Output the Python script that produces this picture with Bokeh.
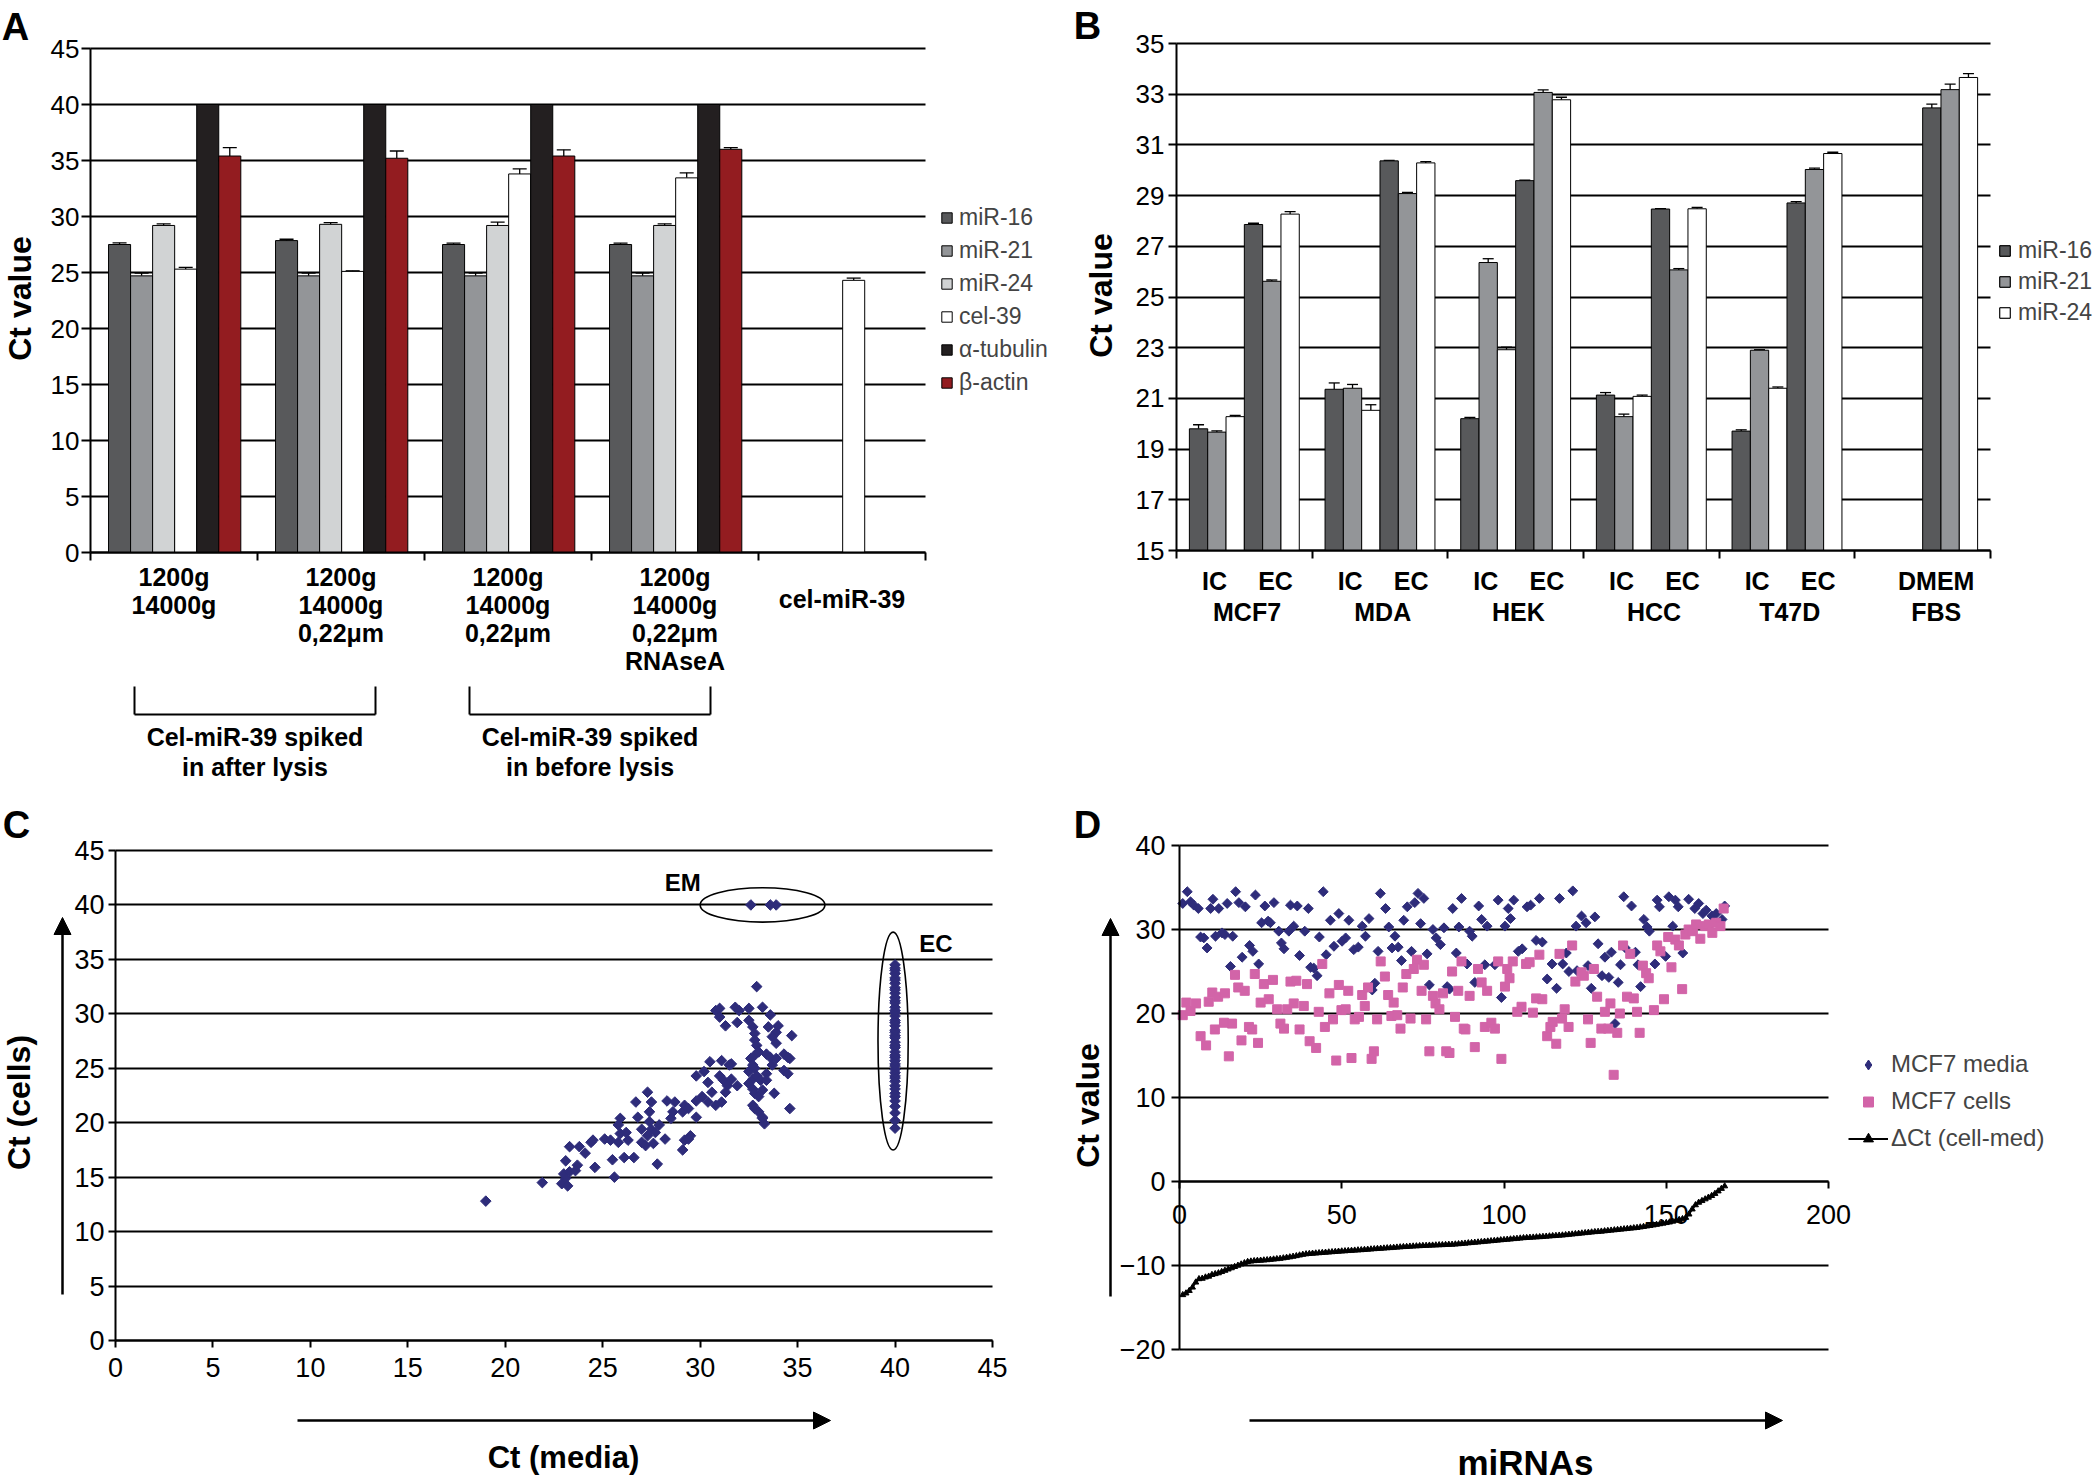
import math
from bokeh.plotting import figure
from bokeh.models import (ColumnDataSource, FixedTicker, Label, Legend, LegendItem,
                          Whisker, TeeHead, Arrow, NormalHead, Range1d)
from bokeh.layouts import column, row
from bokeh.embed import file_html
from bokeh.resources import INLINE

FONT = "Liberation Sans"
NAVY = "#2e2c7a"
PINK = "#d264a8"

# ---------------- Panel A data ----------------
a_groups = [["1200g", "14000g"],
            ["1200g", "14000g", "0,22\u03bcm"],
            ["1200g", "14000g", "0,22\u03bcm"],
            ["1200g", "14000g", "0,22\u03bcm", "RNAseA"],
            ["cel-miR-39"]]
a_series = ["miR-16", "miR-21", "miR-24", "cel-39", "\u03b1-tubulin", "\u03b2-actin"]
a_mir16 = [27.5, 27.85, 27.5, 27.5, None]
a_mir21 = [24.7, 24.7, 24.7, 24.7, None]
a_mir24 = [29.2, 29.3, 29.2, 29.2, None]
a_cel39 = [25.3, 25.1, 33.8, 33.45, 24.3]
a_tubulin = [40.0, 40.0, 40.0, 40.0, None]
a_actin = [35.4, 35.2, 35.4, 36.0, None]
a_mir16_err = [0.15, 0.12, 0.12, 0.12, None]
a_mir21_err = [0.25, 0.25, 0.25, 0.25, None]
a_mir24_err = [0.15, 0.15, 0.3, 0.15, None]
a_cel39_err = [0.15, 0.05, 0.45, 0.45, 0.2]
a_tubulin_err = [0.0, 0.0, 0.0, 0.0, None]
a_actin_err = [0.75, 0.65, 0.55, 0.15, None]
a_brackets = ["Cel-miR-39 spiked|in after lysis", "Cel-miR-39 spiked|in before lysis"]

# ---------------- Panel B data ----------------
b_cells = ["MCF7", "MDA", "HEK", "HCC", "T47D", "DMEM"]
b_cells2 = [None, None, None, None, None, "FBS"]
b_series = ["miR-16", "miR-21", "miR-24"]
b_ic_mir16 = [19.8, 21.36, 20.2, 21.13, 19.71, None]
b_ic_mir21 = [19.67, 21.4, 26.36, 20.28, 22.9, None]
b_ic_mir24 = [20.28, 20.53, 22.92, 21.08, 21.4, None]
b_ec_mir16 = [27.86, 30.37, 29.59, 28.47, 28.71, 32.46]
b_ec_mir21 = [25.62, 29.08, 33.07, 26.07, 30.03, 33.18]
b_ec_mir24 = [28.27, 30.29, 32.78, 28.48, 30.66, 33.66]
b_ic_mir16_err = [0.16, 0.25, 0.05, 0.1, 0.05, None]
b_ic_mir21_err = [0.05, 0.15, 0.15, 0.1, 0.02, None]
b_ic_mir24_err = [0.05, 0.22, 0.1, 0.05, 0.05, None]
b_ec_mir16_err = [0.05, 0.02, 0.02, 0.02, 0.05, 0.15]
b_ec_mir21_err = [0.05, 0.05, 0.1, 0.05, 0.05, 0.22]
b_ec_mir24_err = [0.1, 0.05, 0.1, 0.05, 0.05, 0.15]

# ---------------- Panel C data ----------------
c_media = [19.0, 21.9, 22.9, 23.1, 23.0, 23.3, 23.2, 23.1, 23.3, 23.8, 24.1, 23.7, 23.6, 24.6, 24.4,
           24.5, 25.1, 25.4, 25.6, 25.5, 25.8, 25.9, 25.9, 25.8, 26.2, 26.3, 26.1, 26.6, 26.7, 26.8,
           27.0, 27.2, 27.3, 27.5, 27.4, 27.4, 27.5, 27.7, 27.9, 27.0, 27.3, 27.8, 27.6, 28.2, 28.3,
           28.7, 28.5, 28.6, 29.1, 29.2, 29.5, 29.4, 29.1, 29.2, 29.4, 29.8, 29.8, 29.8, 30.2, 30.1,
           30.4, 30.5, 30.4, 30.6, 30.8, 31.0, 31.1, 31.2, 31.1, 31.3, 31.5, 31.6, 31.4, 31.6, 31.9,
           30.8, 31.0, 31.0, 31.3, 31.8, 32.0, 31.9, 32.5, 32.9, 33.2, 32.5, 32.7, 32.8, 32.8, 32.9,
           33.6, 33.5, 33.9, 34.0, 33.7, 33.9, 34.7, 32.6, 32.7, 32.8, 33.0, 33.4, 33.6, 33.9, 33.7,
           34.3, 34.5, 34.6, 32.5, 32.7, 32.8, 32.9, 33.1, 33.4, 33.4, 34.3, 34.5, 32.5, 32.7, 32.8,
           33.0, 33.2, 33.8, 32.7, 32.8, 33.0, 33.2, 33.3, 33.2, 34.6]
c_cells = [12.8, 14.5, 14.4, 14.9, 15.3, 15.5, 14.2, 16.5, 17.8, 17.8, 17.2, 16.1, 15.6, 15.9, 18.2,
           18.4, 18.5, 18.4, 15.0, 16.6, 18.2, 19.0, 20.4, 19.8, 19.1, 18.4, 16.8, 16.8, 21.9, 20.5,
           18.2, 17.9, 22.8, 21.9, 21.0, 20.1, 19.4, 19.1, 19.8, 19.4, 18.8, 16.2, 18.1, 18.5, 22.0,
           21.9, 20.4, 21.0, 17.5, 18.4, 18.8, 18.5, 21.0, 21.6, 21.3, 22.0, 20.5, 24.3, 24.7, 22.4,
           21.9, 25.6, 23.7, 22.8, 21.6, 24.3, 25.7, 23.9, 21.9, 22.8, 25.3, 24.0, 23.4, 25.4, 23.4,
           30.3, 30.5, 29.7, 28.9, 30.6, 30.3, 29.2, 30.5, 32.5, 30.6, 29.4, 28.8, 28.2, 27.6, 27.1,
           29.9, 28.8, 28.3, 28.9, 27.9, 27.3, 28.0, 25.9, 25.3, 26.2, 26.5, 26.3, 26.0, 25.9, 25.3,
           26.3, 26.0, 25.9, 24.7, 24.0, 25.0, 24.3, 23.9, 24.5, 23.9, 24.8, 24.5, 23.6, 23.1, 22.7,
           22.4, 23.0, 22.7, 21.6, 21.3, 21.0, 20.4, 19.9, 20.5, 21.3]
# EC: not detected in media (Ct 40)
c_ec_cells = [19.5, 20.2, 20.9, 21.5, 22.0, 22.4, 22.7, 23.1, 23.4, 23.8, 24.1, 24.3, 24.6, 24.9,
              25.2, 25.4, 25.7, 26.0, 26.2, 26.5, 26.9, 27.1, 27.4, 27.8, 28.0, 28.3, 28.5, 28.9,
              29.2, 29.4, 29.8, 30.1, 30.3, 30.6, 31.0, 31.2, 31.5, 31.9, 32.2, 32.4, 32.8, 33.1,
              33.3, 33.7, 34.0, 34.2, 34.5]
c_ec_media = [40.0] * len(c_ec_cells)
# EM: not detected in cells (Ct 40)
c_em_media = [32.6, 33.6, 33.9]
c_em_cells = [40.0, 40.0, 40.0]

# ---------------- Panel D data ----------------
d_media_idx = [2.4, 1.0, 3.4, 4.4, 5.8, 6.5, 7.5, 8.5, 9.6, 10.3, 12.1, 11.1, 13.1, 14.0, 14.7,
               15.7, 16.4, 17.3, 18.3, 19.3, 20.3, 21.6, 22.6, 23.4, 24.4, 25.3, 26.3, 27.3, 28.0,
               29.1, 30.6, 31.4, 32.2, 33.7, 34.2, 35.2, 36.3, 37.0, 38.6, 39.7, 40.4, 41.4, 42.4,
               43.1, 44.3, 45.2, 46.5, 47.6, 49.1, 50.1, 51.2, 52.2, 53.7, 55.1, 56.3, 57.3, 58.4,
               59.4, 60.2, 61.2, 61.9, 63.5, 64.5, 65.5, 66.4, 67.4, 68.4, 69.1, 70.2, 71.5, 72.5,
               73.5, 74.3, 75.3, 76.3, 77.0, 78.1, 79.1, 80.4, 81.5, 82.5, 83.2, 84.2, 85.3, 86.1,
               86.9,
               89.4, 90.2, 92.2, 93.1, 94.8, 98.2, 100.3, 101.3, 102.0, 103.0, 107.1, 108.2, 110.9,
               117.1, 121.2, 122.2, 123.9, 125.3, 128.0, 88.6, 91.0, 94.1, 97.2, 99.2, 104.4, 105.6,
               109.9, 111.8, 113.3, 114.8, 116.2, 118.1, 119.2, 120.0, 122.5, 125.9, 126.9, 129.0,
               130.2, 131.1, 132.3, 133.1, 134.2, 135.2, 135.9, 136.9, 137.4, 139.3, 140.5, 141.3,
               142.1, 143.1, 144.1, 144.8, 146.5, 147.2, 147.9, 149.8, 152.0, 150.8, 152.8, 153.7,
               155.1, 156.9, 158.8, 160.0, 161.3, 162.3, 164.1, 165.4, 167.2, 168.0]
d_media = [34.5, 33.1, 33.3, 32.9, 32.5, 29.1, 29.0, 27.8, 32.5, 33.6, 32.5, 29.2, 29.6, 29.4, 33.1,
           25.6, 29.2, 34.5, 33.2, 26.7, 32.7, 28.1, 27.4, 34.1, 25.9, 30.8, 32.8, 31.0, 30.8, 33.2,
           29.8, 28.4, 27.7, 29.8, 32.9, 30.4, 32.8, 26.9, 29.8, 32.5, 25.5, 25.4, 24.5, 29.1, 34.5,
           27.0, 31.1, 28.0, 31.9, 28.6, 29.0, 31.1, 27.6, 27.9, 30.4, 29.2, 31.3, 22.8, 23.6, 27.4,
           34.3, 32.5, 30.3, 27.8, 29.2, 27.9, 26.3, 31.1, 32.7, 27.4, 33.2, 34.3, 30.7, 33.7, 27.1,
           23.4, 30.0, 29.0, 28.2, 30.2, 23.2, 22.9, 32.5, 27.2, 30.3, 33.7,
           29.8, 29.2, 32.8, 31.2, 30.4, 33.5, 30.4, 32.5, 31.3, 33.5, 32.7, 32.9, 33.7, 33.7, 34.6,
           30.4, 31.6, 30.8, 31.5, 25.9, 23.7, 25.8, 25.8, 21.9, 27.4, 27.7, 28.7, 28.5, 24.1, 25.9,
           23.0, 25.9, 27.2, 25.0, 25.1, 25.7, 23.0, 28.3, 24.5, 26.7, 24.3, 27.3, 18.8, 23.7, 25.8,
           33.9, 27.8, 32.8, 27.3, 25.8, 23.2, 31.2, 30.3, 29.8, 25.9, 33.5, 32.7, 26.8, 30.4, 33.9,
           33.5, 32.7, 27.2, 33.6, 32.5, 33.1, 31.9, 32.3, 31.6, 31.9, 31.2, 32.8]
d_cells_idx = [1.0, 2.1, 3.4, 5.1, 6.5, 8.2, 9.0, 10.1, 10.9, 11.9, 14.0, 13.7, 15.2, 16.2, 17.1,
               18.1, 19.1, 20.1, 21.4, 22.4, 23.2, 24.2, 25.0, 26.0, 27.5, 28.8, 30.1, 31.1, 32.2,
               33.2, 34.2, 36.0, 35.2, 37.0, 38.3, 39.3, 40.1, 42.1, 42.9, 44.0, 44.8, 46.2, 47.3,
               48.3, 49.1, 49.9, 51.2, 52.0, 53.0, 54.0, 55.3, 56.3, 57.1, 58.1, 59.2, 59.9, 60.9,
               62.0, 63.3, 64.3, 65.3, 66.0, 67.1, 68.1, 68.8, 69.9, 71.2, 72.2, 73.2, 74.6, 75.3,
               76.0, 77.0, 78.1, 78.9, 80.1, 81.2, 82.2, 83.2, 84.0, 84.9, 85.9, 86.9, 87.6,
               88.1, 89.4, 91.0, 92.0, 93.1, 94.1, 94.8, 96.1, 97.2, 98.2, 99.2, 100.3, 101.0, 101.7,
               102.7, 104.1, 105.4, 106.8, 107.9, 108.9, 109.9, 110.9, 111.8, 113.3, 114.3, 115.0,
               116.1, 117.1, 117.9, 118.7, 119.9, 121.0, 122.0, 123.9, 124.6, 125.9, 126.7, 127.7,
               128.7, 130.0, 131.1, 132.1, 132.8, 133.8, 134.9, 135.7, 136.7, 137.9, 138.9, 140.0,
               141.0, 141.8, 142.8, 143.8, 144.6, 146.2, 147.2, 148.2, 149.3, 150.6, 151.6, 152.8,
               153.9, 154.9, 155.9, 156.9, 158.2, 159.2, 160.5, 162.0, 163.1, 164.2, 165.4, 166.7,
               167.7]
d_cells = [19.8, 21.3, 20.3, 21.2, 17.3, 16.2, 21.4, 22.5, 18.1, 22.0, 22.4, 18.9, 14.9, 18.8, 24.6,
           23.1, 16.8, 22.7, 18.4, 18.1, 24.7, 16.5, 21.3, 23.5, 21.7, 24.0, 20.5, 18.8, 18.2, 20.5,
           23.8, 23.9, 21.2, 18.1, 20.9, 23.5, 16.7, 15.9, 20.2, 25.9, 18.4, 22.4, 19.3, 14.4, 23.4,
           20.4, 20.5, 22.7, 14.7, 19.3, 19.6, 22.2, 20.9, 23.1, 14.6, 15.5, 19.3, 26.2, 24.4, 22.2,
           19.7, 21.3, 19.8, 18.2, 23.1, 24.7, 19.4, 25.3, 26.4, 22.7, 25.8, 19.3, 15.5, 22.1, 21.2,
           20.5, 22.4, 15.5, 15.3, 25.0, 19.6, 22.7, 26.2, 18.2,
           18.1, 22.1, 16.0, 25.3, 23.7, 18.4, 22.7, 18.9, 18.2, 26.2, 14.6, 23.2, 25.3, 24.2, 26.2,
           20.2, 20.8, 25.9, 26.1, 20.1, 21.8, 27.0, 21.7, 17.3, 18.4, 19.0, 16.4, 27.1, 19.4, 20.5,
           18.4, 28.1, 23.8, 24.9, 24.5, 19.3, 16.5, 25.3, 22.0, 18.2, 20.2, 18.2, 21.2, 12.7, 17.7,
           20.0, 28.1, 22.0, 27.1, 21.8, 20.2, 17.7, 25.7, 24.8, 24.2, 20.4, 28.1, 27.4, 21.7, 29.1,
           25.5, 28.8, 28.1, 22.9, 29.4, 30.0, 29.8, 30.6, 28.9, 30.4, 30.6, 29.6, 30.8, 30.4, 32.5]
d_delta = [-13.5, -13.3, -13.0, -12.6, -12.0, -11.6, -11.55, -11.4, -11.3, -11.1,
           -11.0, -10.9, -10.75, -10.6, -10.45, -10.3, -10.15, -10.0, -9.85, -9.7,
           -9.55, -9.5, -9.45, -9.42, -9.4, -9.37, -9.34, -9.3, -9.26, -9.22,
           -9.18, -9.12, -9.06, -9.0, -8.93, -8.86, -8.78, -8.7, -8.64, -8.6,
           -8.57, -8.54, -8.51, -8.48, -8.45, -8.42, -8.39, -8.36, -8.33, -8.3,
           -8.28, -8.25, -8.23, -8.2, -8.17, -8.15, -8.12, -8.09, -8.06, -8.03,
           -8.0, -7.98, -7.95, -7.92, -7.9, -7.87, -7.84, -7.81, -7.78, -7.76,
           -7.73, -7.71, -7.69, -7.67, -7.65, -7.63, -7.61, -7.6, -7.58, -7.56,
           -7.55, -7.53, -7.51, -7.5, -7.47, -7.44, -7.4, -7.37, -7.33, -7.3,
           -7.26, -7.23, -7.19, -7.15, -7.12, -7.08, -7.05, -7.01, -6.97, -6.94,
           -6.9, -6.87, -6.83, -6.8, -6.76, -6.72, -6.7, -6.67, -6.65, -6.62,
           -6.6, -6.57, -6.54, -6.51, -6.48, -6.45, -6.42, -6.4, -6.36, -6.32,
           -6.28, -6.24, -6.2, -6.16, -6.12, -6.08, -6.04, -6.0, -5.97, -5.94,
           -5.9, -5.86, -5.82, -5.78, -5.74, -5.7, -5.66, -5.62, -5.58, -5.54,
           -5.5, -5.44, -5.38, -5.32, -5.26, -5.2, -5.13, -5.06, -4.99, -4.92,
           -4.85, -4.75, -4.65, -4.55, -4.45, -4.3, -3.9, -3.3, -2.8, -2.5,
           -2.3, -2.1, -1.9, -1.7, -1.45, -1.15, -0.85, -0.55]
d_delta_idx = list(range(1, len(d_delta) + 1))


# ---------------- helpers ----------------
def make_fig(fig_x0, fig_y0, w, h, xpx, xdat, ypx, ydat):
    """Figure whose frame fills the whole canvas; the data box (xdat, ydat)
    lands at page pixels (xpx, ypx)."""
    sx = (xpx[1] - xpx[0]) / (xdat[1] - xdat[0])
    sy = (ypx[1] - ypx[0]) / (ydat[1] - ydat[0])
    xr = Range1d(xdat[0] + (fig_x0 - xpx[0]) / sx, xdat[0] + (fig_x0 + w - xpx[0]) / sx)
    yr = Range1d(ydat[0] + (fig_y0 + h - ypx[0]) / sy, ydat[0] + (fig_y0 - ypx[0]) / sy)
    p = figure(width=w, height=h, x_range=xr, y_range=yr, min_border=0, min_border_left=0,
               min_border_right=0, min_border_top=0, min_border_bottom=0,
               output_backend="svg", toolbar_location=None)

    def conv(xp, yp):
        return xdat[0] + (xp - xpx[0]) / sx, ydat[0] + (yp - ypx[0]) / sy
    return p, conv


def style_axes(p, xdat, ydat, xticks, yticks, tick_px, xstand, ystand, xout=7, yout=8,
               xminor=None, xaxis_at=None):
    p.outline_line_color = None
    p.background_fill_color = "white"
    p.border_fill_color = "white"
    p.xgrid.visible = False
    p.ygrid.ticker = FixedTicker(ticks=yticks)
    p.ygrid.grid_line_color = "black"
    p.ygrid.grid_line_width = 1.8
    try:
        p.ygrid.cross_bounds = (xdat[0], xdat[1])
    except AttributeError:
        p.ygrid.visible = False
        p.segment(x0=[xdat[0]] * len(yticks), x1=[xdat[1]] * len(yticks), y0=yticks, y1=yticks,
                  line_color="black", line_width=1.8, level="underlay")
    if xminor is not None:
        p.xaxis.ticker = FixedTicker(ticks=[], minor_ticks=xminor)
    else:
        p.xaxis.ticker = FixedTicker(ticks=xticks)
    p.yaxis.ticker = FixedTicker(ticks=yticks)
    p.xaxis.fixed_location = ydat[0] if xaxis_at is None else xaxis_at
    p.yaxis.fixed_location = xdat[0]
    p.xaxis.bounds = (xdat[0], xdat[1])
    p.yaxis.bounds = (ydat[0], ydat[1])
    for ax, st, out in ((p.xaxis, xstand, xout), (p.yaxis, ystand, yout)):
        ax.axis_line_color = "black"
        ax.axis_line_width = 2
        ax.major_tick_line_color = "black"
        ax.major_tick_line_width = 2
        ax.major_tick_in = 0
        ax.major_tick_out = out
        ax.minor_tick_line_color = None
        ax.major_label_text_font = FONT
        ax.major_label_text_font_size = f"{tick_px}px"
        ax.major_label_text_color = "black"
        ax.major_label_standoff = st
    if xminor is not None:
        p.xaxis.minor_tick_line_color = "black"
        p.xaxis.minor_tick_line_width = 2
        p.xaxis.minor_tick_in = 0
        p.xaxis.minor_tick_out = xout


def lbl(p, xy, text, size, bold=False, angle=0.0, align="center", baseline="middle"):
    p.add_layout(Label(x=xy[0], y=xy[1], text=text, text_font=FONT, text_font_size=f"{size}px",
                       text_font_style="bold" if bold else "normal", angle=angle,
                       text_align=align, text_baseline=baseline, text_color="black"))


def seg(p, a, b, w=2.0):
    p.add_layout(Arrow(x_start=a[0], y_start=a[1], x_end=b[0], y_end=b[1], start=None, end=None,
                       line_color="black", line_width=w))


def arrow(p, a, b):
    p.add_layout(Arrow(x_start=a[0], y_start=a[1], x_end=b[0], y_end=b[1], start=None,
                       end=NormalHead(size=17, fill_color="black", line_color="black"),
                       line_color="black", line_width=2.5))


def bars(p, vals_list, errs_list, colors, width, shift, bottom, cap):
    rends = []
    n = len(vals_list)
    for j, (vals, errs, col) in enumerate(zip(vals_list, errs_list, colors)):
        xs, tops, ex, eb, eu = [], [], [], [], []
        for i, v in enumerate(vals):
            if v is None:
                continue
            xc = i + 0.5 + (j - (n - 1) / 2) * width + shift
            xs.append(xc)
            tops.append(v)
            if errs[i]:
                ex.append(xc); eb.append(v); eu.append(v + errs[i])
        src = ColumnDataSource(dict(x=xs, top=tops))
        r = p.vbar(x="x", top="top", bottom=bottom, width=width, source=src,
                   fill_color=col, line_color="black", line_width=1)
        rends.append(r)
        if ex:
            esrc = ColumnDataSource(dict(x=ex, base=eb, upper=eu))
            p.add_layout(Whisker(base="x", lower="base", upper="upper", source=esrc,
                                 dimension="height", line_color="black", line_width=1.3,
                                 lower_head=None,
                                 upper_head=TeeHead(size=cap, line_color="black", line_width=1.3)))
    return rends


def legend(p, items, loc, gw, gh, standoff, lh, spacing, size):
    p.add_layout(Legend(items=items, location=loc, glyph_width=gw, glyph_height=gh,
                        label_standoff=standoff, label_height=lh, spacing=spacing, padding=0,
                        margin=0, border_line_color=None, background_fill_alpha=0,
                        label_text_font=FONT, label_text_font_size=f"{size}px"))


# ================= Panel A =================
A_X, A_Y = (0, 5), (0, 45)
pA, A = make_fig(0, 0, 1050, 800, (90, 925), A_X, (552, 48), A_Y)
style_axes(pA, A_X, A_Y, [], list(range(0, 46, 5)), 26, 0, 2, xout=8, yout=9,
           xminor=list(range(0, 6)))
A_COLORS = ["#58595b", "#939598", "#d1d3d4", "#ffffff", "#231f20", "#931c20"]
rA = bars(pA, [a_mir16, a_mir21, a_mir24, a_cel39, a_tubulin, a_actin],
          [a_mir16_err, a_mir21_err, a_mir24_err, a_cel39_err, a_tubulin_err, a_actin_err],
          A_COLORS, 0.132, 0.004, 0, 14)
legend(pA, [LegendItem(label=s, renderers=[r]) for s, r in zip(a_series, rA)],
       (940, 800 - 396), 13, 13, 6, 27, 6, 23)
for i, lines in enumerate(a_groups):
    ys = [598] if len(lines) == 1 else [576 + 28 * k for k in range(len(lines))]
    for line, yp in zip(lines, ys):
        lbl(pA, (i + 0.5, A(0, yp)[1]), line, 25, bold=True)
for (xl, xr), text in zip([(134, 375), (469, 710)], a_brackets):
    tl, bl, br, tr = A(xl, 686), A(xl, 714), A(xr, 714), A(xr, 686)
    seg(pA, tl, bl)
    seg(pA, bl, br)
    seg(pA, br, tr)
    for k, t in enumerate(text.split("|")):
        lbl(pA, ((bl[0] + br[0]) / 2, A(0, 736 + 30 * k)[1]), t, 25, bold=True)
lbl(pA, A(19, 298), "Ct value", 32, bold=True, angle=math.pi / 2)
lbl(pA, A(15, 26), "A", 38, bold=True)

# ================= Panel B =================
B_X, B_Y = (0, 6), (15, 35)
pB, B = make_fig(1050, 0, 1050, 800, (1176, 1990), B_X, (550, 43), B_Y)
style_axes(pB, B_X, B_Y, [], list(range(15, 36, 2)), 26, 0, 4, xout=8, yout=8,
           xminor=list(range(0, 7)))
B_COLORS = ["#58595b", "#939598", "#ffffff"] * 2
rB = bars(pB, [b_ic_mir16, b_ic_mir21, b_ic_mir24, b_ec_mir16, b_ec_mir21, b_ec_mir24],
          [b_ic_mir16_err, b_ic_mir21_err, b_ic_mir24_err, b_ec_mir16_err, b_ec_mir21_err,
           b_ec_mir24_err], B_COLORS, 0.135, 0.0, 15, 11)
legend(pB, [LegendItem(label=s, renderers=[rB[k], rB[k + 3]]) for k, s in enumerate(b_series)],
       (1998 - 1050, 800 - 326), 13, 13, 7, 27, 4, 23)
y_row1 = B(0, 580)[1]
y_row2 = B(0, 611)[1]
for i, (name, name2) in enumerate(zip(b_cells, b_cells2)):
    if name2 is None:
        lbl(pB, (i + 0.28, y_row1), "IC", 25, bold=True)
        lbl(pB, (i + 0.73, y_row1), "EC", 25, bold=True)
        lbl(pB, (i + 0.52, y_row2), name, 25, bold=True)
    else:
        lbl(pB, (i + 0.6, y_row1), name, 25, bold=True)
        lbl(pB, (i + 0.6, y_row2), name2, 25, bold=True)
lbl(pB, B(1100, 295), "Ct value", 32, bold=True, angle=math.pi / 2)
lbl(pB, B(1087, 25), "B", 38, bold=True)

# ================= Panel C =================
C_X, C_Y = (0, 45), (0, 45)
pC, C = make_fig(0, 800, 1050, 683, (115, 992), C_X, (1340, 850), C_Y)
style_axes(pC, C_X, C_Y, list(range(0, 46, 5)), list(range(0, 46, 5)), 27, 10, 4, xout=7, yout=7)
for xs_, ys_ in ((c_media, c_cells), (c_ec_media, c_ec_cells), (c_em_media, c_em_cells)):
    pC.scatter(xs_, ys_, marker="square", angle=math.pi / 4, size=7.5,
               fill_color=NAVY, line_color=NAVY)
pC.ellipse(x=[33.2, 39.9], y=[40.0, 27.5], width=[6.4, 1.55], height=[3.15, 20.0],
           fill_color=None, line_color="black", line_width=1.6)
lbl(pC, (29.1, 42.1), "EM", 24, bold=True)
lbl(pC, (42.1, 36.5), "EC", 24, bold=True)
arrow(pC, C(62, 1294), C(62, 917))
arrow(pC, C(297, 1420), C(830, 1420))
lbl(pC, C(18, 1102), "Ct (cells)", 32, bold=True, angle=math.pi / 2)
lbl(pC, C(563, 1457), "Ct (media)", 31, bold=True)
lbl(pC, C(16, 824), "C", 38, bold=True)

# ================= Panel D =================
D_X, D_Y = (0, 200), (-20, 40)
pD, D = make_fig(1050, 800, 1050, 683, (1179, 1828), D_X, (1349, 845), D_Y)
style_axes(pD, D_X, D_Y, list(range(0, 201, 50)), list(range(-20, 41, 10)), 27, 16, 6,
           xout=7, yout=8, xaxis_at=0)
r_media = pD.scatter(d_media_idx, d_media, marker="square", angle=math.pi / 4, size=7,
                     fill_color=NAVY, line_color=NAVY)
r_cells = pD.scatter(d_cells_idx, d_cells, marker="square", size=9,
                     fill_color=PINK, line_color=PINK)
r_line = pD.line(d_delta_idx, d_delta, line_color="black", line_width=2)
r_tri = pD.scatter(d_delta_idx, d_delta, marker="triangle", size=6,
                   fill_color="black", line_color="black")
# legend key for the media series (a diamond drawn off-canvas, shown only in the legend)
r_media_key = pD.scatter([-1.0e6], [-1.0e6], marker="diamond", fill_color=NAVY, line_color=NAVY)
legend(pD, [LegendItem(label="MCF7 media", renderers=[r_media_key]),
            LegendItem(label="MCF7 cells", renderers=[r_cells]),
            LegendItem(label="\u0394Ct (cell-med)", renderers=[r_line, r_tri])],
       (1848 - 1050, 1483 - 1152), 40, 25, 3, 27, 9, 24)
arrow(pD, D(1110, 1296), D(1110, 918))
arrow(pD, D(1249, 1420), D(1782, 1420))
lbl(pD, D(1087, 1105), "Ct value", 32, bold=True, angle=math.pi / 2)
lbl(pD, D(1525, 1462), "miRNAs", 35, bold=True)
lbl(pD, D(1087, 824), "D", 38, bold=True)

layout = column(row(pA, pB), row(pC, pD))
open("out.html", "w").write(file_html(layout, INLINE))
